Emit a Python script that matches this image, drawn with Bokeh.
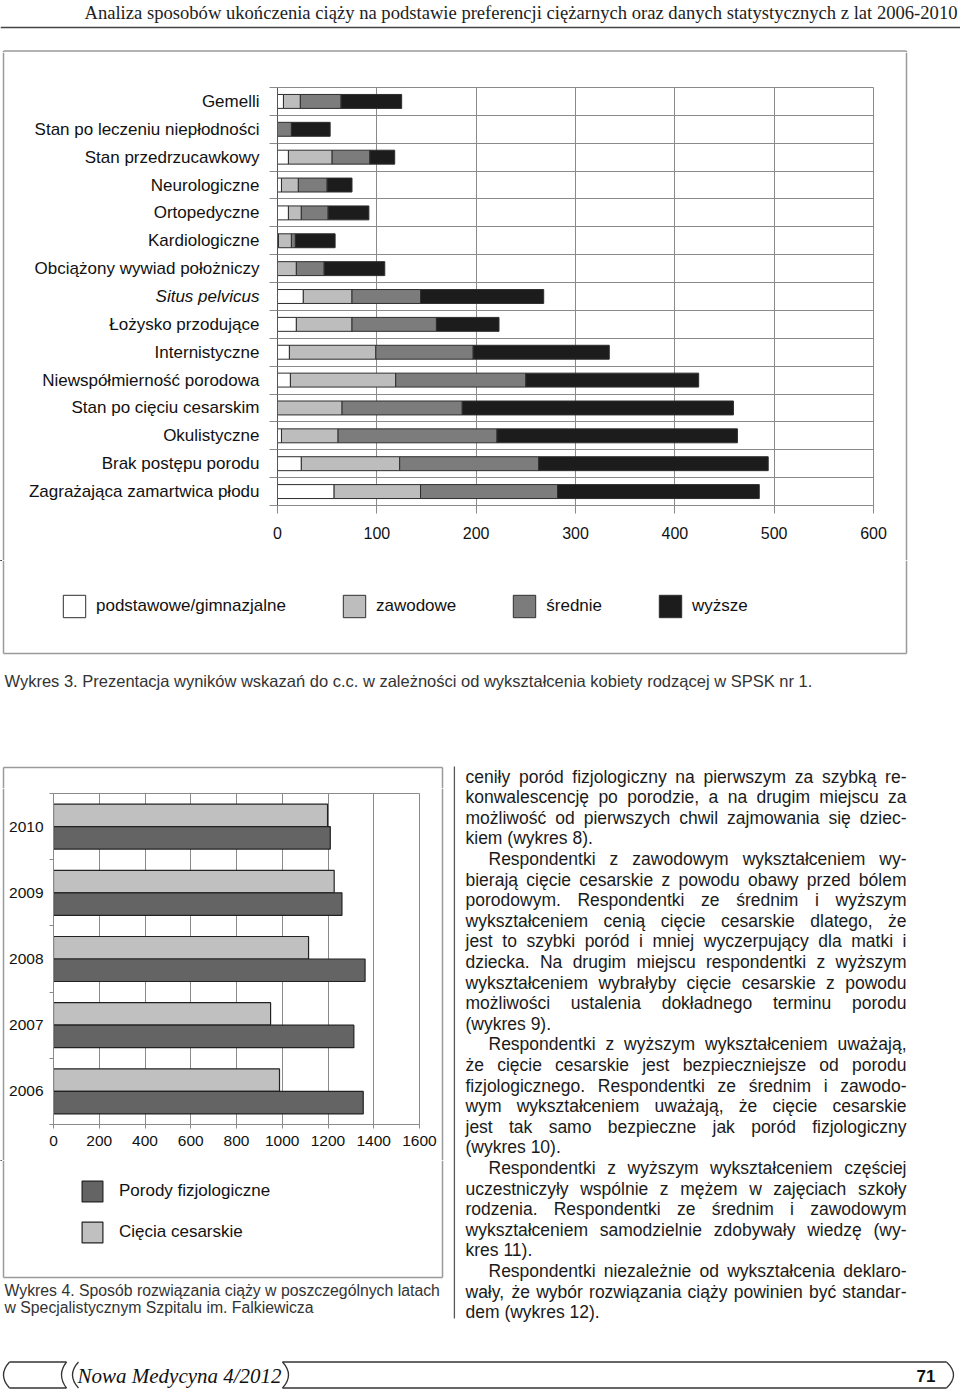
from bokeh.plotting import figure
from bokeh.models import (Range1d, FixedTicker, Legend, LegendItem, ColumnDataSource)
from bokeh.layouts import column, row
from bokeh.embed import file_html
from bokeh.resources import INLINE
from bokeh.core.properties import value, field

SANS = "Liberation Sans"
SERIF = "Liberation Serif"

# ---------------- data: Wykres 3 ----------------
categories = ["Gemelli", "Stan po leczeniu niepłodności", "Stan przedrzucawkowy",
              "Neurologiczne", "Ortopedyczne", "Kardiologiczne",
              "Obciążony wywiad położniczy", "Situs pelvicus", "Łożysko przodujące",
              "Internistyczne", "Niewspółmierność porodowa", "Stan po cięciu cesarskim",
              "Okulistyczne", "Brak postępu porodu", "Zagrażająca zamartwica płodu"]
italic_categories = ["Situs pelvicus"]
podstawowe = [6, 0, 11, 4, 11, 1, 0, 26, 19, 12, 13, 0, 4, 24, 57]
zawodowe = [17, 0, 44, 17, 13, 13, 19, 49, 56, 87, 106, 65, 57, 99, 87]
srednie = [41, 14, 38, 29, 27, 4, 28, 69, 85, 98, 131, 121, 160, 140, 138]
wyzsze = [61, 39, 25, 25, 41, 40, 61, 124, 63, 137, 174, 273, 242, 231, 203]
series_names = ["podstawowe/gimnazjalne", "zawodowe", "średnie", "wyższe"]
x1_ticks = [0, 100, 200, 300, 400, 500, 600]

# ---------------- data: Wykres 4 ----------------
years = ["2006", "2007", "2008", "2009", "2010"]
porody = [1354, 1313, 1362, 1261, 1210]
ciecia = [988, 949, 1115, 1227, 1198]
series2_names = ["Porody fizjologiczne", "Cięcia cesarskie"]
x2_ticks = [0, 200, 400, 600, 800, 1000, 1200, 1400, 1600]

# ---------------- page texts ----------------
header_text = ("Analiza sposobów ukończenia ciąży na podstawie preferencji ciężarnych "
               "oraz danych statystycznych z lat 2006-2010")
caption3 = ("Wykres 3. Prezentacja wyników wskazań do c.c. w zależności od "
            "wykształcenia kobiety rodzącej w SPSK nr 1.")
caption4 = ["Wykres 4. Sposób rozwiązania ciąży w poszczególnych latach",
            "w Specjalistycznym Szpitalu im. Falkiewicza"]
body_lines = [
    "ceniły poród fizjologiczny na pierwszym za szybką re-",
    "konwalescencję po porodzie, a na drugim miejscu za",
    "możliwość od pierwszych chwil zajmowania się dziec-",
    "kiem (wykres 8).",
    "Respondentki z zawodowym wykształceniem wy-",
    "bierają cięcie cesarskie z powodu obawy przed bólem",
    "porodowym. Respondentki ze średnim i wyższym",
    "wykształceniem cenią cięcie cesarskie dlatego, że",
    "jest to szybki poród i mniej wyczerpujący dla matki i",
    "dziecka. Na drugim miejscu respondentki z wyższym",
    "wykształceniem wybrałyby cięcie cesarskie z powodu",
    "możliwości ustalenia dokładnego terminu porodu",
    "(wykres 9).",
    "Respondentki z wyższym wykształceniem uważają,",
    "że cięcie cesarskie jest bezpieczniejsze od porodu",
    "fizjologicznego. Respondentki ze średnim i zawodo-",
    "wym wykształceniem uważają, że cięcie cesarskie",
    "jest tak samo bezpieczne jak poród fizjologiczny",
    "(wykres 10).",
    "Respondentki z wyższym wykształceniem częściej",
    "uczestniczyły wspólnie z mężem w zajęciach szkoły",
    "rodzenia. Respondentki ze średnim i zawodowym",
    "wykształceniem samodzielnie zdobywały wiedzę (wy-",
    "kres 11).",
    "Respondentki niezależnie od wykształcenia deklaro-",
    "wały, że wybór rozwiązania ciąży powinien być standar-",
    "dem (wykres 12).",
]
indent_lines = [4, 13, 19, 24]
last_lines = [3, 12, 18, 23, 26]
footer_title = "Nowa Medycyna 4/2012"
page_number = "71"

# ---------------- helpers ----------------
_W = {' ': 278, '(': 333, ')': 333, ',': 278, '-': 333, '.': 278, '/': 278, ':': 278}
for ch in "0123456789":
    _W[ch] = 556
_W.update(dict(zip("abcdefghijklmnopqrstuvwxyz",
                   [556, 556, 500, 556, 556, 278, 556, 556, 222, 222, 500, 222, 833,
                    556, 556, 556, 556, 333, 500, 278, 556, 500, 722, 500, 500, 500])))
_W.update(dict(zip("ABCDEFGHIJKLMNOPQRSTUVWXYZ",
                   [667, 667, 722, 722, 667, 611, 778, 722, 278, 500, 667, 556, 833,
                    722, 778, 667, 778, 722, 667, 611, 722, 667, 944, 667, 667, 611])))
_W.update({'ą': 556, 'ę': 556, 'ó': 556, 'ś': 500, 'ć': 500, 'ń': 556, 'ź': 500,
           'ż': 500, 'ł': 222, 'Ł': 556, 'Ś': 667, 'Ż': 611})


def tw(s, fs):
    return sum(_W.get(c, 556) for c in s) * fs / 1000.0


def bare(width, height, xr, yr):
    p = figure(width=width, height=height, x_range=Range1d(*xr), y_range=Range1d(*yr),
               x_axis_type=None, y_axis_type=None, output_backend="svg",
               toolbar_location=None, min_border_left=0, min_border_right=0,
               min_border_top=0, min_border_bottom=0)
    p.frame_align = False
    p.outline_line_color = None
    p.background_fill_color = "white"
    p.border_fill_color = "white"
    return p


BOX = "#9a9a9a"
BOXW = 1.5

# ---------------- header (page y 0..52) ----------------
ph = bare(960, 52, (0, 960), (52, 0))
ph.text(x=[957], y=[12], text=[header_text], text_align="right", text_baseline="middle",
        text_font=value(SERIF), text_font_size="18.6px", text_color="#222222")
ph.segment(x0=[0], y0=[27], x1=[960], y1=[27], line_color="#444444", line_width=1.5)
ph.segment(x0=[3, 3, 906], y0=[50.5, 50.5, 50.5], x1=[906, 3, 906], y1=[50.5, 52, 52],
           line_color=BOX, line_width=BOXW)

# ---------------- chart 1 row (page y 52..560) ----------------
ROW_TOP, ROW_BOT, FR_TOP, FR_BOT = 52, 560, 87, 505
n = len(categories)
ppu = (FR_BOT - FR_TOP) / n
ypos = [n - 0.5 - i for i in range(n)]

# left strip: box border + category labels (same y scale as the chart)
pl1 = bare(268, ROW_BOT - ROW_TOP, (0, 268),
           (-(ROW_BOT - FR_BOT) / ppu, n + (FR_TOP - ROW_TOP) / ppu))
pl1.segment(x0=[3], y0=[pl1.y_range.start], x1=[3], y1=[pl1.y_range.end],
            line_color=BOX, line_width=BOXW)
lab_src = ColumnDataSource(dict(y=ypos, t=categories,
                                st=["italic" if c in italic_categories else "normal"
                                    for c in categories]))
pl1.text(x=259, y="y", text="t", source=lab_src, text_align="right",
         text_baseline="middle", text_font=value(SANS), text_font_size="17px",
         text_font_style=field("st"), text_color="#111111")

src1 = ColumnDataSource(dict(y=ypos, p=podstawowe, z=zawodowe, s=srednie, w=wyzsze))
p1 = figure(width=632, height=ROW_BOT - ROW_TOP, x_range=Range1d(0, 600),
            y_range=Range1d(0, n), output_backend="svg", toolbar_location=None,
            min_border_left=9, min_border_right=27, min_border_top=FR_TOP - ROW_TOP,
            min_border_bottom=ROW_BOT - FR_BOT)
p1.frame_align = False
p1.background_fill_color = "white"
p1.border_fill_color = "white"
p1.outline_line_color = "#8a8a8a"
colors1 = ["#ffffff", "#bdbdbd", "#7c7c7c", "#1c1c1c"]
rs = p1.hbar_stack(["p", "z", "s", "w"], y="y", height=0.5, source=src1,
                   fill_color=colors1, line_color="#2e2e2e", line_width=1)
p1.xaxis.ticker = FixedTicker(ticks=x1_ticks)
p1.xgrid.ticker = FixedTicker(ticks=x1_ticks)
p1.xgrid.grid_line_color = "#8a8a8a"
p1.xaxis.major_tick_out = 8
p1.xaxis.major_tick_in = 0
p1.xaxis.minor_tick_line_color = None
p1.xaxis.major_tick_line_color = "#8a8a8a"
p1.xaxis.axis_line_color = "#8a8a8a"
p1.xaxis.major_label_standoff = 13
p1.xaxis.major_label_text_font = SANS
p1.xaxis.major_label_text_font_size = "16px"
p1.xaxis.major_label_text_color = "#111111"
p1.yaxis.ticker = FixedTicker(ticks=[], minor_ticks=list(range(n + 1)))
p1.ygrid.ticker = FixedTicker(ticks=list(range(n + 1)))
p1.ygrid.grid_line_color = "#8a8a8a"
p1.yaxis.major_tick_line_color = None
p1.yaxis.major_tick_out = 0
p1.yaxis.major_label_standoff = 0
p1.yaxis.minor_tick_out = 8
p1.yaxis.minor_tick_in = 0
p1.yaxis.minor_tick_line_color = "#8a8a8a"
p1.yaxis.axis_line_color = "#555555"

pr1 = bare(60, ROW_BOT - ROW_TOP, (0, 60), (ROW_BOT - ROW_TOP, 0))
pr1.segment(x0=[6], y0=[0], x1=[6], y1=[ROW_BOT - ROW_TOP], line_color=BOX, line_width=BOXW)

# ---------------- chart 1 bottom (page y 560..760): legend, box, caption ----------------
pb1 = bare(960, 200, (0, 960), (200, 0))
pb1.segment(x0=[3, 906, 3], y0=[0, 0, 93], x1=[3, 906, 906], y1=[93, 93, 93],
            line_color=BOX, line_width=BOXW)
# legend swatch renderers (one point far outside the visible range)
dummy1 = [pb1.hbar(y=[-1000], left=[0], right=[1], height=1, fill_color=c,
                   line_color="#2e2e2e", line_width=1) for c in colors1]
G1 = 28            # legend glyph area (swatch is drawn inset by 10 %)
INS1 = 3
leg1 = Legend(items=[LegendItem(label=nm, renderers=[r]) for nm, r in zip(series_names, dummy1)],
              orientation="horizontal", location=(63 - INS1, 143 - INS1), glyph_width=G1,
              glyph_height=G1, label_height=G1, label_standoff=11 - INS1,
              spacing=57 - INS1, padding=0, margin=0, border_line_color=None,
              background_fill_alpha=0, label_text_font=SANS, label_text_font_size="17px",
              label_text_color="#111111")
pb1.add_layout(leg1)
pb1.text(x=[4], y=[120], text=[caption3], text_align="left", text_baseline="middle",
         text_font=value(SANS), text_font_size="16.5px", text_color="#333333")

# ---------------- chart 2 block (page x 0..453, y 760..1330) ----------------
pt2 = bare(453, 28, (0, 453), (28, 0))
pt2.segment(x0=[3, 3, 442], y0=[7, 7, 7], x1=[442, 3, 442], y1=[7, 28, 28],
            line_color=BOX, line_width=BOXW)

m = len(years)
ycent = [i + 0.5 for i in range(m)]
src2 = ColumnDataSource(dict(yc=[y + 0.17 for y in ycent], yp=[y - 0.17 for y in ycent],
                             c=ciecia, p=porody))
p2 = figure(width=434, height=372, x_range=Range1d(0, 1600), y_range=Range1d(0, m),
            output_backend="svg", toolbar_location=None,
            min_border_left=47, min_border_right=21, min_border_top=5,
            min_border_bottom=36)
p2.frame_align = False
p2.background_fill_color = "white"
p2.border_fill_color = "white"
p2.outline_line_color = "#8a8a8a"
r_c = p2.hbar(y="yc", right="c", left=0, height=0.34, source=src2,
              fill_color="#c0c0c0", line_color="#222222", line_width=1.2)
r_p = p2.hbar(y="yp", right="p", left=0, height=0.34, source=src2,
              fill_color="#646464", line_color="#222222", line_width=1.2)
p2.xaxis.ticker = FixedTicker(ticks=x2_ticks)
p2.xgrid.ticker = FixedTicker(ticks=x2_ticks)
p2.xgrid.grid_line_color = "#8a8a8a"
p2.ygrid.visible = False
p2.xaxis.major_tick_out = 4
p2.xaxis.major_tick_in = 0
p2.xaxis.minor_tick_line_color = None
p2.xaxis.major_tick_line_color = "#8a8a8a"
p2.xaxis.axis_line_color = "#8a8a8a"
p2.xaxis.major_label_standoff = 7
p2.xaxis.major_label_text_font = SANS
p2.xaxis.major_label_text_font_size = "15.5px"
p2.xaxis.major_label_text_color = "#111111"
p2.yaxis.ticker = FixedTicker(ticks=ycent, minor_ticks=list(range(m + 1)))
p2.yaxis.major_tick_line_color = None
p2.yaxis.major_tick_out = 0
p2.yaxis.major_tick_in = 0
p2.yaxis.minor_tick_out = 4
p2.yaxis.minor_tick_in = 0
p2.yaxis.minor_tick_line_color = "#8a8a8a"
p2.yaxis.axis_line_color = "#8a8a8a"
p2.yaxis.major_label_standoff = 6
p2.yaxis.major_label_text_font = SANS
p2.yaxis.major_label_text_font_size = "15.5px"
p2.yaxis.major_label_text_color = "#111111"
p2.yaxis.major_label_overrides = {y: yr for y, yr in zip(ycent, years)}

pl2 = bare(6, 372, (0, 6), (372, 0))
pl2.segment(x0=[3], y0=[0], x1=[3], y1=[372], line_color=BOX, line_width=BOXW)
pr2 = bare(13, 372, (0, 13), (372, 0))
pr2.segment(x0=[2], y0=[0], x1=[2], y1=[372], line_color=BOX, line_width=BOXW)

pb2 = bare(453, 170, (0, 453), (170, 0))
pb2.segment(x0=[3, 442, 3], y0=[0, 0, 117], x1=[3, 442, 442], y1=[117, 117, 117],
            line_color=BOX, line_width=BOXW)
d_p = pb2.hbar(y=[-1000], left=[0], right=[1], height=1, fill_color="#646464",
               line_color="#222222", line_width=1.2)
d_c = pb2.hbar(y=[-1000], left=[0], right=[1], height=1, fill_color="#c0c0c0",
               line_color="#222222", line_width=1.2)
G2 = 26
INS2 = 3
leg2 = Legend(items=[LegendItem(label=series2_names[0], renderers=[d_p]),
                     LegendItem(label=series2_names[1], renderers=[d_c])],
              orientation="vertical", location=(82 - INS2, 88 - INS2), glyph_width=G2,
              glyph_height=G2, label_height=G2, label_standoff=17 - INS2,
              spacing=41 - G2, padding=0, margin=0, border_line_color=None,
              background_fill_alpha=0, label_text_font=SANS, label_text_font_size="17px",
              label_text_color="#111111")
pb2.add_layout(leg2)
pb2.text(x=[4, 4], y=[130, 147], text=caption4, text_align="left", text_baseline="middle",
         text_font=value(SANS), text_font_size="15.8px", text_color="#333333")

block2 = column(pt2, row(pl2, p2, pr2), pb2)

# ---------------- text column (page x 453..960, y 760..1330) ----------------
pt = bare(507, 570, (453, 960), (1330, 760))
pt.segment(x0=[453.8], y0=[766], x1=[453.8], y1=[1318], line_color="#555555",
           line_width=1.5)
FS = 17.5
xs, ys, ws = [], [], []
for i, line in enumerate(body_lines):
    y = 776 + 20.6 * i
    x0 = 488 if i in indent_lines else 465
    x1 = 906
    words = line.split(" ")
    widths = [tw(w, FS) for w in words]
    if i in last_lines or len(words) == 1:
        gap = tw(" ", FS)
    else:
        gap = max(2.0, (x1 - x0 - sum(widths)) / (len(words) - 1))
    x = x0
    for w, wd in zip(words, widths):
        xs.append(x)
        ys.append(y)
        ws.append(w)
        x += wd + gap
pt.text(x="x", y="y", text="t", source=ColumnDataSource(dict(x=xs, y=ys, t=ws)),
        text_align="left", text_baseline="middle", text_font=value(SANS),
        text_font_size=f"{FS}px", text_color="#1a1a1a")

# ---------------- footer (page y 1330..1389) ----------------
pf = bare(960, 59, (0, 960), (59, 0))
top, bot, mid = 31.5, 57.5, 44.5
lc = "#333333"
pf.quadratic(x0=[9, 66, 78, 282, 946], y0=[top] * 5, x1=[9, 66, 78, 282, 946],
             y1=[bot] * 5, cx=[-3, 56, 66, 294, 960], cy=[mid] * 5,
             line_color=lc, line_width=1.3)
pf.segment(x0=[9, 9, 282, 282], y0=[top, bot, top, bot], x1=[66, 66, 946, 946],
           y1=[top, bot, top, bot], line_color=lc, line_width=1.3)
pf.text(x=[77], y=[45], text=[footer_title], text_align="left", text_baseline="middle",
        text_font=value(SERIF), text_font_size="21px", text_font_style="italic",
        text_color="#111111")
pf.text(x=[935], y=[45], text=[page_number], text_align="right", text_baseline="middle",
        text_font=value(SANS), text_font_size="17px", text_font_style="bold",
        text_color="#111111")

layout = column(ph, row(pl1, p1, pr1), pb1, row(block2, pt), pf)
with open("out.html", "w", encoding="utf-8") as f:
    f.write(file_html(layout, INLINE))
